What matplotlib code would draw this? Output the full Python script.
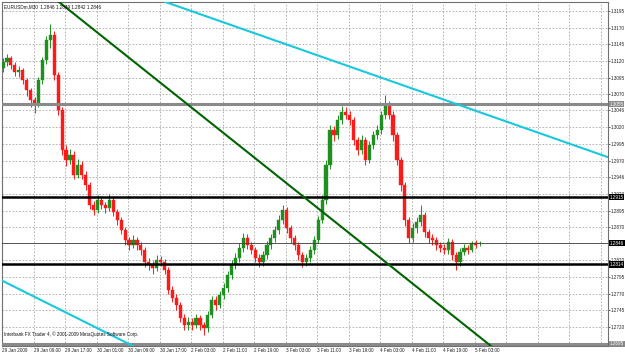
import matplotlib
matplotlib.use('Agg')
import matplotlib.pyplot as plt
import matplotlib.transforms as mtransforms

symbol_title = "EURUSDm,M30  1.2846 1.2849 1.2842 1.2846"
copyright_text = "Interbank FX Trader 4, \u00a9 2001-2009 MetaQuotes Software Corp."

# candles (each drawn every 2 M30 slots)
opens = [1.3110, 1.3118, 1.3124, 1.3114, 1.3103, 1.3106, 1.3091, 1.3076, 1.3061, 1.3054,
         1.3091, 1.3121, 1.3151, 1.3159, 1.3099, 1.3046, 1.2986, 1.2971, 1.2979, 1.2949,
         1.2964, 1.2949, 1.2933, 1.2903, 1.2896, 1.2911, 1.2903, 1.2899, 1.2911, 1.2893,
         1.2881, 1.2866, 1.2851, 1.2843, 1.2851, 1.2843, 1.2836, 1.2818, 1.2813, 1.2809,
         1.2821, 1.2818, 1.2806, 1.2776, 1.2764, 1.2753, 1.2734, 1.2723, 1.2728, 1.2723,
         1.2734, 1.2723, 1.2718, 1.2738, 1.2761, 1.2753, 1.2768, 1.2779, 1.2798, 1.2813,
         1.2824, 1.2839, 1.2854, 1.2843, 1.2836, 1.2824, 1.2818, 1.2828, 1.2843, 1.2854,
         1.2866, 1.2881, 1.2896, 1.2869, 1.2854, 1.2843, 1.2828, 1.2818, 1.2824, 1.2836,
         1.2851, 1.2881, 1.2911, 1.2964, 1.3016, 1.3008, 1.3031, 1.3043, 1.3039, 1.3031,
         1.3001, 1.2986, 1.3001, 1.2971, 1.2994, 1.3008, 1.3016, 1.3039, 1.3054, 1.3039,
         1.3008, 1.2971, 1.2933, 1.2881, 1.2854, 1.2869, 1.2878, 1.2888, 1.2863, 1.2854,
         1.2851, 1.2843, 1.2839, 1.2836, 1.2848, 1.2828, 1.2818, 1.2833, 1.2839, 1.2836,
         1.2846, 1.2846]
closes = [1.3118, 1.3124, 1.3114, 1.3103, 1.3106, 1.3091, 1.3076, 1.3061, 1.3054, 1.3091,
          1.3121, 1.3151, 1.3159, 1.3099, 1.3046, 1.2986, 1.2971, 1.2979, 1.2949, 1.2964,
          1.2949, 1.2933, 1.2903, 1.2896, 1.2911, 1.2903, 1.2899, 1.2911, 1.2893, 1.2881,
          1.2866, 1.2851, 1.2843, 1.2851, 1.2843, 1.2836, 1.2818, 1.2813, 1.2809, 1.2821,
          1.2818, 1.2806, 1.2776, 1.2764, 1.2753, 1.2734, 1.2723, 1.2728, 1.2723, 1.2734,
          1.2723, 1.2718, 1.2738, 1.2761, 1.2753, 1.2768, 1.2779, 1.2798, 1.2813, 1.2824,
          1.2839, 1.2854, 1.2843, 1.2836, 1.2824, 1.2818, 1.2828, 1.2843, 1.2854, 1.2866,
          1.2881, 1.2896, 1.2869, 1.2854, 1.2843, 1.2828, 1.2818, 1.2824, 1.2836, 1.2851,
          1.2881, 1.2911, 1.2964, 1.3016, 1.3008, 1.3031, 1.3043, 1.3039, 1.3031, 1.3001,
          1.2986, 1.3001, 1.2971, 1.2994, 1.3008, 1.3016, 1.3039, 1.3054, 1.3039, 1.3008,
          1.2971, 1.2933, 1.2881, 1.2854, 1.2869, 1.2878, 1.2888, 1.2863, 1.2854, 1.2851,
          1.2843, 1.2839, 1.2836, 1.2848, 1.2828, 1.2818, 1.2833, 1.2839, 1.2836, 1.2846,
          1.2843, 1.2846]
highs = [1.3125, 1.3131, 1.3128, 1.3118, 1.3112, 1.3110, 1.3095, 1.3080, 1.3066, 1.3096,
         1.3126, 1.3158, 1.3176, 1.3165, 1.3104, 1.3050, 1.2994, 1.2988, 1.2984, 1.2972,
         1.2970, 1.2954, 1.2938, 1.2910, 1.2918, 1.2917, 1.2908, 1.2920, 1.2915, 1.2898,
         1.2886, 1.2871, 1.2856, 1.2858, 1.2856, 1.2848, 1.2840, 1.2823, 1.2819, 1.2828,
         1.2827, 1.2822, 1.2810, 1.2781, 1.2769, 1.2757, 1.2739, 1.2735, 1.2733, 1.2740,
         1.2738, 1.2728, 1.2744, 1.2767, 1.2766, 1.2774, 1.2786, 1.2804, 1.2820, 1.2831,
         1.2846, 1.2862, 1.2860, 1.2848, 1.2840, 1.2829, 1.2834, 1.2849, 1.2860, 1.2872,
         1.2888, 1.2904, 1.2900, 1.2874, 1.2859, 1.2848, 1.2833, 1.2830, 1.2842, 1.2857,
         1.2887, 1.2918, 1.2971, 1.3024, 1.3022, 1.3038, 1.3052, 1.3050, 1.3045, 1.3036,
         1.3006, 1.3008, 1.3006, 1.3000, 1.3015, 1.3023, 1.3045, 1.3069, 1.3060, 1.3044,
         1.3013, 1.2976, 1.2938, 1.2886, 1.2876, 1.2885, 1.2903, 1.2893, 1.2868, 1.2860,
         1.2856, 1.2848, 1.2845, 1.2854, 1.2852, 1.2833, 1.2839, 1.2845, 1.2844, 1.2849,
         1.2851, 1.2849]
lows = [1.3104, 1.3112, 1.3108, 1.3097, 1.3096, 1.3085, 1.3068, 1.3050, 1.3041, 1.3050,
        1.3086, 1.3115, 1.3140, 1.3092, 1.3038, 1.2978, 1.2962, 1.2965, 1.2943, 1.2944,
        1.2942, 1.2926, 1.2897, 1.2888, 1.2891, 1.2897, 1.2892, 1.2894, 1.2887, 1.2874,
        1.2860, 1.2843, 1.2836, 1.2838, 1.2836, 1.2828, 1.2810, 1.2805, 1.2800, 1.2804,
        1.2811, 1.2799, 1.2770, 1.2757, 1.2746, 1.2727, 1.2715, 1.2716, 1.2716, 1.2718,
        1.2716, 1.2708, 1.2713, 1.2733, 1.2746, 1.2748, 1.2762, 1.2773, 1.2792, 1.2807,
        1.2818, 1.2833, 1.2837, 1.2829, 1.2817, 1.2810, 1.2812, 1.2822, 1.2837, 1.2848,
        1.2860, 1.2875, 1.2862, 1.2847, 1.2836, 1.2820, 1.2810, 1.2812, 1.2818, 1.2830,
        1.2846, 1.2876, 1.2905, 1.2958, 1.3000, 1.3002, 1.3025, 1.3032, 1.3024, 1.2994,
        1.2978, 1.2980, 1.2964, 1.2966, 1.2988, 1.3002, 1.3010, 1.3033, 1.3032, 1.3000,
        1.2963, 1.2925, 1.2872, 1.2846, 1.2848, 1.2862, 1.2872, 1.2856, 1.2847, 1.2844,
        1.2836, 1.2832, 1.2829, 1.2830, 1.2820, 1.2806, 1.2812, 1.2828, 1.2830, 1.2833,
        1.2838, 1.2842]

date_labels = ["29 Jan 2009", "29 Jan 09:00", "29 Jan 17:00", "30 Jan 01:00", "30 Jan 09:00",
               "30 Jan 17:00", "2 Feb 03:00", "2 Feb 11:00", "2 Feb 19:00", "3 Feb 03:00",
               "3 Feb 11:00", "3 Feb 19:00", "4 Feb 03:00", "4 Feb 11:00", "4 Feb 19:00",
               "5 Feb 03:00"]
price_tick_labels = ["1.3195", "1.3170", "1.3145", "1.3120", "1.3095", "1.3070", "1.3046",
                     "1.3020", "1.2995", "1.2970", "1.2946", "1.2920", "1.2895", "1.2870",
                     "1.2846", "1.2820", "1.2795", "1.2770", "1.2745", "1.2720"]

# horizontal level lines (price, label, colour)
level_prices = [1.3055, 1.2915, 1.2814, 1.2695]
level_labels = ["1.3055", "1.2915", "1.2814", "1.2695"]
level_colors = ["#8a8a8a", "#000000", "#000000", "#8a8a8a"]
bid_price = 1.2846

# trendlines: (slot, price) anchors
green_line = [(27.0, 1.3212), (247.7, 1.26914)]
cyan_upper = [(79.2, 1.3212), (307.6, 1.29748)]
cyan_lower = [(0.0, 1.2789), (66.0, 1.26914)]

FONT = ['Liberation Sans Narrow', 'Liberation Sans', 'DejaVu Sans']
plt.rcParams['font.family'] = FONT
FS = 3.3

W, H = 625, 356
fig = plt.figure(figsize=(W / 100, H / 100), dpi=100)
fig.patch.set_facecolor('white')
ax = fig.add_axes([2 / W, 10 / H, 606 / W, 344 / H])
px_per_slot = 1.97
ax.set_xlim(-0.5, -0.5 + 606 / px_per_slot)
ax.set_ylim(1.26914, 1.32086)

tick_vals = [float(t) for t in price_tick_labels]
ax.yaxis.tick_right()
ax.set_yticks(tick_vals)
ax.set_yticklabels(price_tick_labels)
ax.tick_params(axis='y', labelsize=FS, length=1.5, width=0.5, pad=0.6, colors='#202020')
label_slots = [16 * k for k in range(len(date_labels))]
grid_slots = [16 * k for k in range(1, 20)]
ax.set_xticks([])
for s in grid_slots:
    ax.axvline(s - 0.5, color='#a8a8a8', lw=0.6, ls=(0, (2, 2)), zorder=0)
for v in tick_vals:
    ax.axhline(v, color='#a8a8a8', lw=0.6, ls=(0, (2, 2)), zorder=0)
for sp in ax.spines.values():
    sp.set_color('#707070')
    sp.set_linewidth(0.8)

blend_x = mtransforms.blended_transform_factory(ax.transData, ax.transAxes)
for s, lab in zip(label_slots, date_labels):
    ax.text(s - 0.5, -0.007, lab, transform=blend_x, ha='left', va='top',
            fontsize=FS, color='#202020', clip_on=False)

# candles
bull_c, bear_c = '#1f8f1f', '#ff1a1a'
for j, (o, h, l, c) in enumerate(zip(opens, highs, lows, closes)):
    x = 2 * j
    col = bull_c if c >= o else bear_c
    ax.vlines(x, l, h, color=col, lw=0.7, zorder=3)
    lo, hi = min(o, c), max(o, c)
    if hi - lo < 0.00008:
        hi = lo + 0.00008
    ax.bar(x, hi - lo, bottom=lo, width=1.6, color=col, edgecolor=col, lw=0.3, zorder=4)

# level lines
for p, c in zip(level_prices, level_colors):
    ax.axhline(p, color=c, lw=1.8 if c == '#000000' else 2.2, zorder=5)
ax.axhline(bid_price, color='#404040', lw=0.6, zorder=5)

# trendlines
for pts, col in [(green_line, '#006400'), (cyan_upper, '#18c8dc'), (cyan_lower, '#18c8dc')]:
    (x0, y0), (x1, y1) = pts
    ax.axline((x0, y0), (x1, y1), color=col, lw=1.5, zorder=6)

blend_y = mtransforms.blended_transform_factory(ax.transAxes, ax.transData)
for p, lab, c in list(zip(level_prices, level_labels, level_colors)) + [(bid_price, "1.2846", "#000000")]:
    ax.text(1.003, p, lab, transform=blend_y, ha='left', va='center', fontsize=FS,
            color='white', clip_on=False, zorder=10,
            bbox=dict(facecolor=c, edgecolor='none', pad=0.4))

ax.text(0.003, 0.992, symbol_title, transform=ax.transAxes, ha='left', va='top',
        fontsize=FS, color='#101010', zorder=8)
ax.text(0.003, 0.025, copyright_text, transform=ax.transAxes, ha='left', va='bottom',
        fontsize=FS, color='#101010', zorder=8)

fig.savefig('out.png', dpi=100)
